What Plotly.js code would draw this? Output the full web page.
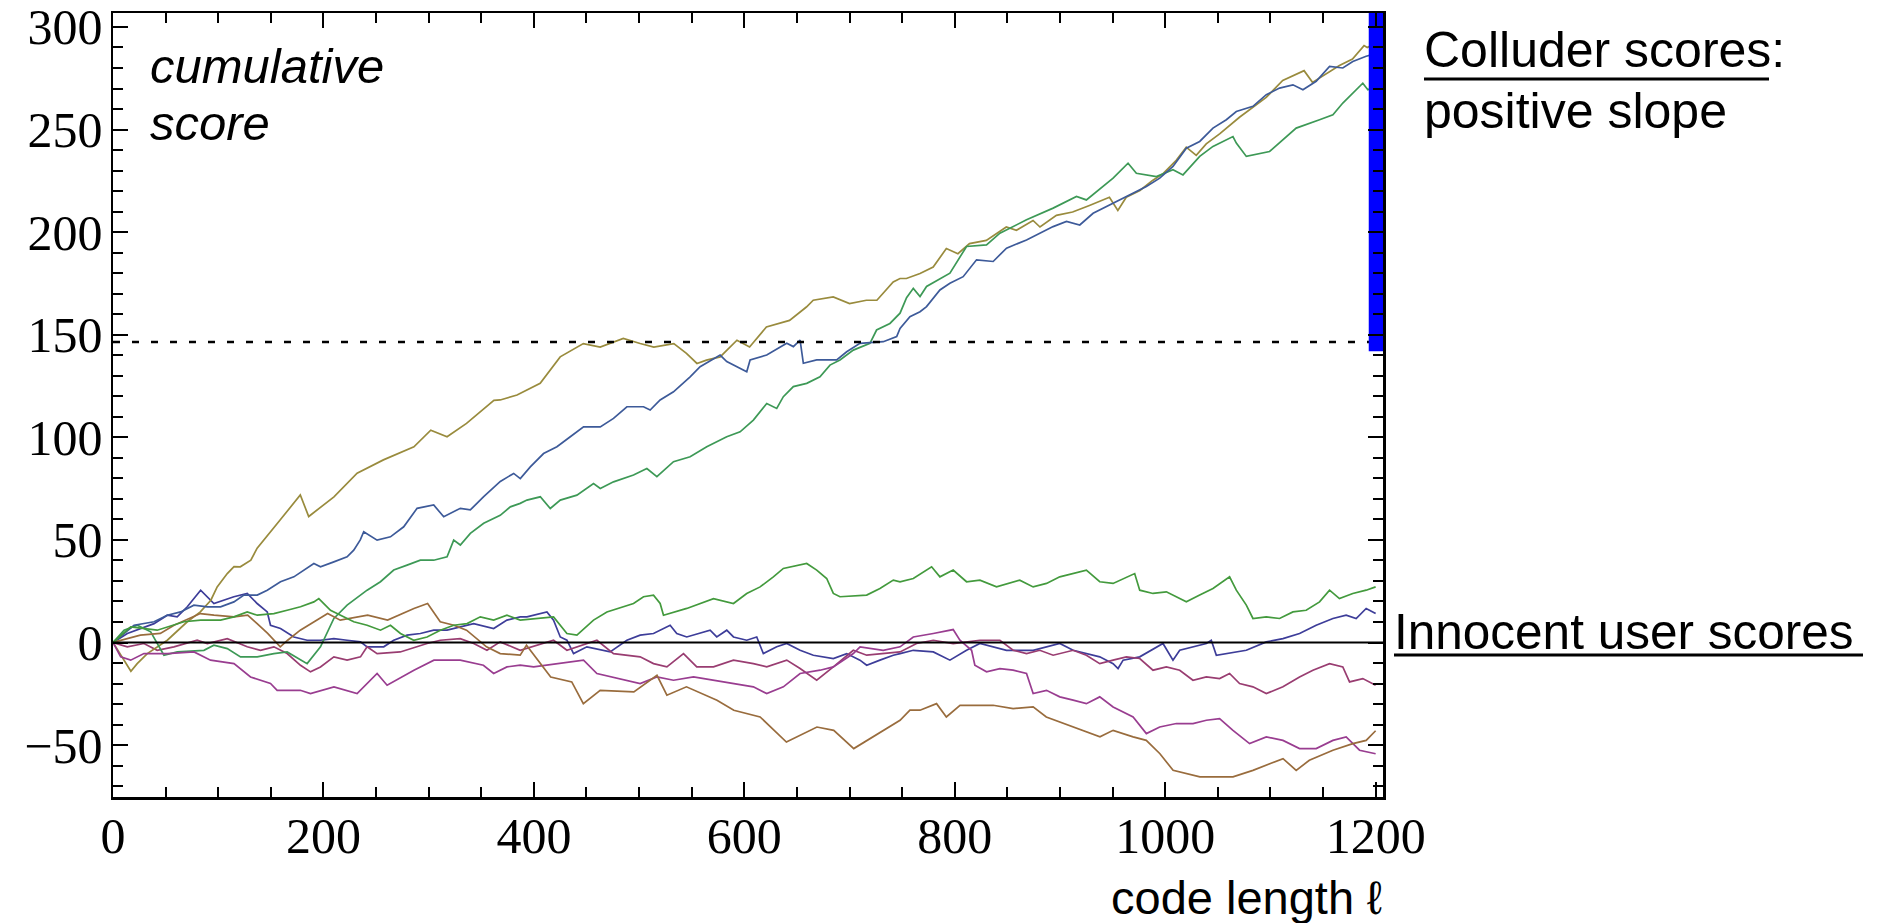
<!DOCTYPE html>
<html>
<head>
<meta charset="utf-8">
<script src="https://cdn.plot.ly/plotly-3.0.1.min.js"></script>
<style>
  html, body { margin: 0; padding: 0; background: #ffffff; }
  #chart { width: 1877px; height: 923px; }
</style>
</head>
<body>
<div id="chart"></div>
<script>
// ---------------- DATA ----------------
// Colluder 1 (olive)
const oliveX = [0,7.3,17,23,32.6,51.6,70.6,83,93,99,108.6,115,121,131,137,159,178,186,210,232,257,286,302,317.5,336,362,368,384,406,425,447,463,485,501,514,533,545,555,564,577,593,605,621,643,659,665.5,684.5,700,716,726,741.5,748,754,767,779.5,792,803,814,830,849,858.6,874.4,881,896.6,912,928,947,955,963,976,988,998,1010.5,1020,1029.5,1039,1052,1070.6,1083,1096,1111.7,1132,1140,1153,1165.6,1178,1189,1192,1200];
const oliveY = [0,-6.2,-14,-10.3,-5.4,1.1,10.1,14.9,20.6,27.1,33.6,37,36.9,40.1,46,59.8,71.9,61.4,71,82.5,89,95.4,103.5,100.3,106.8,118,118.2,120.6,126.3,139.2,145.7,144,148.2,145.7,144,145.7,140.9,136,137.6,139.2,147.3,144,153.8,157,163.5,166.8,168.4,165.2,166.8,166.8,175.7,177.4,177.4,179.8,183,192,189.5,194.4,196,202.5,200.9,205.7,202.5,208.2,209.8,213,217,210.6,217,220.3,225.2,228.5,235,241.4,237.4,243,248,256,260.9,265.7,273.9,278.7,273,277.1,281.2,284.4,290.9,290,292];

// Colluder 2 (blue)
const colBlueX = [0,20,39,51.6,64.3,76.9,89.6,102.2,114.9,124.4,137.1,146.6,159.2,171.9,190.9,197.2,209.9,222.5,228.8,235,238.3,251,263.7,276.3,289,304.8,314.3,330.1,339.6,352.3,368.1,380.8,387.1,396.6,409.2,421.9,434.6,447.2,463.1,475.7,488.4,504.2,510.5,520,532.7,548.5,558,577,583.3,602.3,605.5,621.3,640.3,646.6,653,656.1,668.8,687.8,697.3,709.9,732.1,744.8,748,757.4,767,773.2,785.9,795.4,808,820.7,836.5,849.2,868.2,880.8,893.5,906.2,918.8,931.5,944.1,956.8,969.5,982.1,994.8,1007.4,1020.1,1032.8,1045.4,1058.1,1067.6,1083.4,1096.1,1108.7,1121.4,1130.9,1143.5,1156.2,1168.8,1178.3,1191,1200];
const colBlueY = [0,8.4,10.1,13.3,14.9,18.2,17.4,17.4,19.8,23.1,23.1,25.5,29.6,32,38.5,36.9,39.3,41.8,45,50,54,49.9,51.5,56.4,65.4,67,61.3,65.4,64.6,71.1,78.5,82.4,79.9,85.6,92.1,95.4,100.3,105.1,105.1,109.2,114.9,114.9,113.3,118.2,122.2,129.5,134.4,140.1,136.9,132,137.7,140.1,145.8,144.2,147.4,136.1,137.7,137.7,141.7,145.8,146.6,149.1,153.1,158.8,161.2,163.7,171.8,175.1,178.3,186.5,185.7,192.2,196.2,199.5,202.7,205.2,203.5,209.2,212.5,215.7,219,222.2,226.3,232,240.9,244.2,250.7,254.8,258.8,261.3,267,270.2,271.8,269.4,273.5,280.8,280,283.2,285.7,287];

// Colluder 3 (green)
const colGreenX = [0,10.5,23.1,35.8,48.4,61.1,86.4,95.9,108.6,121.2,137.1,152.9,165.5,178.2,184.5,197.2,209.9,222.5,241.5,254.2,266.8,279.5,292.1,304.8,317.5,323.8,330.1,339.6,352.3,368,377.6,387,393.4,406.1,415.6,425.1,440.9,456.7,463.1,475.7,494.7,507.4,516.9,532.7,548.5,564.3,583.3,596,608.6,621.3,630.8,637.1,646.6,659.3,671.9,681.4,690.9,703.6,719.4,725.7,738.4,748,754.2,760.6,767,773.2,795.4,811.2,830.2,842.9,868.2,893.5,915.7,925.1,950.5,964.7,972.6,991.6,1007.4,1016.9,1032.8,1045.4,1064.4,1067.6,1077.1,1099.2,1111.9,1124.5,1146.7,1159.4,1168.8,1187.8,1192.6,1200];
const colGreenY = [0,6,8.4,5.2,-6.2,-4.6,-3.8,-1.3,-3,-7,-7,-5.4,-4.6,-8.6,-10.3,-2.1,11.7,18.2,25.5,29.6,35.3,37.7,40.1,40.1,41.8,49.9,47.5,53.2,58.1,62,66.1,67.8,69.4,71,65.3,69.4,71.8,77.5,75.1,78.3,81.6,84.8,80.8,88.1,90.5,95.4,100.3,102.7,108.4,116.5,114.1,119.8,124.7,126.3,129.5,135.2,137.7,142.5,145.8,152.3,155.5,160.5,168,172.6,168.6,173.5,180,193,193.8,199.5,206,211.7,217.4,215.7,226.3,233.6,228.7,227.1,230.4,227.9,236.9,241.8,246.6,243.4,236.9,239.3,245,250.7,254.8,257.2,262.9,272.6,269.4,271];

// Innocent user (green)
const innGreenX = [0,16.8,42,67.4,83.3,102.2,114.9,127.6,137.1,152.9,165.5,178.2,190.9,195.6,206.7,228.8,241.5,254.2,263.7,273.2,285.8,298.5,311.1,323.8,336.5,349.1,361.8,374.4,387,406.1,418.7,431.4,440.9,456.7,469.4,494.7,504.2,513.7,520,523.2,545.3,570.7,589.7,602.3,615,627.6,637.1,659.3,668.8,678.3,684.6,690.9,716.3,728.9,741.6,748,760.6,778,785.9,798.5,811.2,823.9,839.7,861.8,874.5,887.2,899.8,925.1,937.8,950.5,971,975.8,988.4,1001.1,1020.1,1032.8,1045.4,1061.2,1067.6,1077.1,1083.4,1096.1,1108.7,1121.4,1134,1146.7,1156.2,1165.6,1178.3,1191,1200];
const innGreenY = [0,7.6,6,10.1,10.9,10.9,12.5,14.9,13.3,14.1,15.7,17.4,19.8,21.4,15.7,10.1,8.4,6,8.4,4.4,1.1,2.7,6,8.4,9.2,12.5,10.9,13.3,10.9,11.7,12.5,4.4,3.6,10.9,14.9,19,22.3,23.1,19,13.3,16.6,21.4,19,23.9,27.1,32,36.1,38.5,35.3,31.2,23.9,22.3,23.1,26.3,30.4,29.6,31.2,36.9,32,35.3,29.6,30.4,27.1,30.4,27.1,28.8,32,35.3,29.6,28.8,33.6,25.5,23.9,24.7,19.8,23.1,26.3,32,25.5,18.2,11.7,12.5,11.7,14.9,15.7,19.8,25.5,21.4,23.9,25.5,27.1];

// Innocent user (blue)
const innBlueX = [0,13.6,39,51.6,61,70.6,83.3,95.9,114.9,127.6,137,146.6,149.7,159.2,171.9,184.5,197.2,209.9,222.5,235.2,241.5,257.3,266.8,279.5,292.1,304.8,317.5,330.1,342.8,361.8,374.4,387,393.4,412.4,418.7,425.1,431.4,437.7,450.4,472.5,488.4,501,513.7,529.5,535.8,545.3,567.5,573.8,583.3,589.7,602.3,611.8,618.1,630.8,640.3,653,665.6,684.6,697.3,709.9,716.3,728.9,741.6,748,760.6,779.6,795.4,811.2,823.9,849.2,874.5,899.8,912.5,937.8,950.5,955.2,960,975.8,997.9,1007.4,1013.8,1039.1,1043.8,1048.6,1077.1,1096.1,1111.9,1127.7,1143.5,1159.4,1172,1181.5,1191,1200];
const innBlueY = [0,4.4,9.2,13.3,12.5,17.4,25.5,19,22.3,23.9,19,14.9,8.4,6.8,2.7,1.1,1.1,1.9,1.1,0.3,-2.1,-2.1,1.1,3.6,4.4,6,6,7.6,9.2,6.8,10.9,12.5,12.5,14.9,10.9,2.7,1.1,-5.4,-2.1,-4.6,1.1,3.6,4.4,8.4,4.4,2.7,6,2.7,6,2.7,1.1,2.7,-5.4,-2.1,-0.5,-3.8,-6.2,-7.8,-5.4,-8.6,-11.1,-8.6,-6.2,-5.4,-3.8,-4.6,-8.6,-3.8,-0.5,-3.8,-3.8,-0.5,-3.8,-7,-10.3,-12.7,-8.6,-7,-0.5,-8.6,-3.8,-0.5,1.1,-6.2,-3.8,0.3,1.9,4.4,8.4,11.7,13.3,11.7,16.6,14.1];

// Innocent user (magenta)
const innMagentaX = [0,13.6,29.4,42,57.9,80,89.6,108.6,127.6,140.2,152.9,165.5,178.2,187.7,197.2,209.9,222.5,235.2,241.5,251,273,298.5,311,330,342.8,355.4,368,387,418.7,431.4,459.9,475.7,501,513.7,526.4,542.2,554.8,570.7,589.7,608.6,621.3,640.3,653,668.8,684.6,703.6,716.3,748,763.7,779.6,798.5,823.9,842.9,855.5,868.2,880.8,893.5,912.5,925.1,937.8,950.5,963.1,975.8,988.4,1001.1,1013.8,1026.4,1039.1,1051.7,1061.2,1070.7,1083.4,1096.1,1111.9,1127.7,1140.4,1156.2,1168.8,1175.2,1187.8,1200];
const innMagentaY = [0,-2.1,-0.5,-3.8,-2.1,1.1,-0.5,1.9,-2.1,-3.8,-2.1,-5.4,-11.1,-14.3,-11.9,-7,-8.6,-7,-2.1,-5.4,-4.6,-0.5,1.1,1.9,-0.5,-3.8,0.3,-3.8,1.1,-3.8,1.1,-5.4,-7,-10.3,-11.9,-5.4,-11.9,-11.9,-8.6,-10.3,-11.9,-8.6,-12.7,-18.4,-11.9,-3.8,-6.2,-4.6,-0.5,1.1,-0.5,1.1,1.1,-3.8,-5.4,-3.8,-6.2,-3.8,-6.2,-10.3,-8.6,-7,-7.8,-13.5,-11.9,-13.5,-18.4,-16.8,-17.6,-15.1,-20,-21.6,-24.9,-21.6,-16.8,-13.5,-10.3,-11.9,-19.2,-17.6,-20.8];

// Innocent user (purple)
const innPurpleX = [0,7.3,16.8,29.4,51.6,77,92.7,115,130.7,149.7,156,178,187.7,210,232,251,260.5,286,305,330,352,361.8,374.4,387,399.8,447.2,459.9,501,516.9,532.7,551.7,570.7,589.7,608.6,621.3,637.1,653,672,684.6,703.6,710,732,748,760.6,779.6,798.5,804.9,816,819.1,830.2,842.9,855.5,868.2,874.5,887.2,899.8,912.5,925.1,937.8,950.5,969.5,982.1,994.8,1010.6,1026.4,1039.1,1051.7,1064.4,1080.2,1096.1,1111.9,1127.7,1143.5,1159.4,1172,1184.7,1200];
const innPurpleY = [0,-7,-8.6,-5.4,-5.4,-4.6,-8.6,-10.3,-16.8,-20,-23.3,-23.3,-24.9,-21.6,-24.9,-15.1,-20.8,-13.5,-8.6,-8.6,-11.1,-15.1,-11.9,-11,-11.9,-8.6,-15.1,-20,-16.8,-18.4,-16.8,-18.4,-20,-21.6,-24.9,-21.6,-15.1,-13.5,-11.9,-5.4,-2.1,-3.8,-2.1,2.7,4.4,6.3,1.1,-3.8,-11.1,-14.3,-12.7,-13.5,-15.1,-24.9,-23.3,-26.5,-28.1,-29.8,-26.5,-31.4,-36.3,-44.4,-41.2,-39.5,-39.5,-37.9,-37.1,-42.8,-49.3,-46,-47.7,-51.7,-51.7,-47.7,-46,-52.5,-54.2];

// Innocent user (brown)
const innBrownX = [0,26,45,58,83,96,115,128,137,147,159,166,178,204,216,242,261,286,299,311,324,336,355,368,387,393,416,436,447,463,495,517,526.4,545,574,590,615,628,640,669,685,704,732,748,757.4,767,782.7,792,805,836.5,855.5,874.5,887,912.5,938,950.5,969.5,982,995,1007.5,1033,1064.4,1083.4,1112,1124.5,1137,1159.4,1178.3,1191,1200];
const innBrownY = [0,3.6,4.4,8.4,14.1,13.3,12.5,13.3,9.2,4.4,-2.1,1.1,6,14.1,10.9,13.3,10.9,16.6,19,10.1,8.4,6,-2.1,-5.4,-6.2,-1.3,-16.8,-19.2,-29.8,-23.3,-24.1,-16,-25.7,-21.6,-28.1,-33,-36.3,-42.8,-48.5,-41.2,-42.8,-51.7,-42.8,-37.9,-33,-33,-29.8,-36.3,-30.6,-30.6,-32.2,-31.4,-36.3,-41.2,-46,-42.8,-46,-47.7,-54.2,-62.3,-65.5,-65.5,-62.3,-56.6,-62.3,-57.4,-52.5,-49.3,-47.7,-43];

// Reference levels
const thresholdScore = 146.5;      // dashed accusation threshold
const barCodeLength = 1202;        // position of the blue bar
const barScoreRange = [142, 320];  // vertical extent of the blue bar
const xAxisRange = [0, 1207];
const yAxisRange = [-75.3, 306.8];

// Tick labels
const xTickVals = [0, 200, 400, 600, 800, 1000, 1200];
const xTickText = ["0", "200", "400", "600", "800", "1000", "1200"];
const yTickVals = [-50, 0, 50, 100, 150, 200, 250, 300];
const yTickText = ["\u221250", "0", "50", "100", "150", "200", "250", "300"];

// Texts
const yLabelLines = ["cumulative", "score"];
const xLabelText = "code length \u2113";
const colluderLines = ["Colluder scores:", "positive slope"];
const innocentText = "Innocent user scores";

// ---------------- STYLES / LAYOUT ----------------
const W = 1877, H = 923;
const PL = 113, PR = 1383, PT = 13, PB = 797;   // plot box in px
const px2x = p => (p - PL) / (PR - PL);
const px2y = p => (PB - p) / (PB - PT);

const seriesDefs = [
  { x: innBlueX,    y: innBlueY,    color: '#3D3D99' },
  { x: innMagentaX, y: innMagentaY, color: '#993D71' },
  { x: oliveX,      y: oliveY,      color: '#998B3D' },
  { x: colGreenX,   y: colGreenY,   color: '#3D9956' },
  { x: colBlueX,    y: colBlueY,    color: '#3D5A99' },
  { x: innPurpleX,  y: innPurpleY,  color: '#993D90' },
  { x: innBrownX,   y: innBrownY,   color: '#996C3D' },
  { x: innGreenX,   y: innGreenY,   color: '#439A3D' }
];

const traces = seriesDefs.map(s => ({
  type: 'scatter', mode: 'lines', x: s.x, y: s.y,
  line: { color: s.color, width: 1.7 }, hoverinfo: 'skip'
}));

// zero line
traces.push({ type: 'scatter', mode: 'lines', x: xAxisRange, y: [0, 0],
  line: { color: '#000000', width: 2.2 }, hoverinfo: 'skip' });
// dashed threshold
traces.push({ type: 'scatter', mode: 'lines', x: xAxisRange, y: [thresholdScore, thresholdScore],
  line: { color: '#000000', width: 2.5, dash: '7px,12px' }, hoverinfo: 'skip' });
// blue bar
traces.push({ type: 'scatter', mode: 'lines', x: [barCodeLength, barCodeLength], y: barScoreRange,
  line: { color: '#0000FF', width: 18 }, hoverinfo: 'skip' });

const tickFont = { family: 'Liberation Serif, Times New Roman, serif', size: 50, color: '#000000' };
const sansFont = (size, style) => ({ family: 'Liberation Sans, Arial, sans-serif', size: size, color: '#000000', style: style || 'normal' });

const commonAxis = {
  showgrid: false, zeroline: false, showline: true, linecolor: '#000000', linewidth: 2.5,
  mirror: 'ticks', ticks: 'inside', ticklen: 15, tickwidth: 2, tickcolor: '#000000',
  tickfont: tickFont, fixedrange: true, ticklabeloverflow: 'allow'
};

const layout = {
  width: W, height: H,
  margin: { l: PL, r: W - PR, t: PT, b: H - PB, pad: 0 },
  paper_bgcolor: '#ffffff', plot_bgcolor: '#ffffff',
  showlegend: false,
  xaxis: Object.assign({}, commonAxis, {
    range: xAxisRange, tickmode: 'array', tickvals: xTickVals, ticktext: xTickText,
    ticklabelstandoff: -7,
    minor: { dtick: 50, tick0: 0, ticks: 'inside', ticklen: 10, tickwidth: 2, tickcolor: '#000000' }
  }),
  yaxis: Object.assign({}, commonAxis, {
    range: yAxisRange, tickmode: 'array', tickvals: yTickVals, ticktext: yTickText,
    ticklabelstandoff: -2,
    minor: { dtick: 10, tick0: 0, ticks: 'inside', ticklen: 10, tickwidth: 2, tickcolor: '#000000' }
  }),
  annotations: [
    { text: yLabelLines[0], xref: 'paper', yref: 'paper', x: px2x(148), y: px2y(66), xanchor: 'left', yanchor: 'middle', showarrow: false, font: sansFont(49, 'italic') },
    { text: yLabelLines[1], xref: 'paper', yref: 'paper', x: px2x(148), y: px2y(123), xanchor: 'left', yanchor: 'middle', showarrow: false, font: sansFont(49, 'italic') },
    { text: colluderLines[0], xref: 'paper', yref: 'paper', x: px2x(1422), y: px2y(50), xanchor: 'left', yanchor: 'middle', showarrow: false, font: sansFont(50) },
    { text: colluderLines[1], xref: 'paper', yref: 'paper', x: px2x(1422), y: px2y(111), xanchor: 'left', yanchor: 'middle', showarrow: false, font: sansFont(50) },
    { text: innocentText, xref: 'paper', yref: 'paper', x: px2x(1392), y: px2y(631), xanchor: 'left', yanchor: 'middle', showarrow: false, font: sansFont(49.5) },
    { text: xLabelText, xref: 'paper', yref: 'paper', x: px2x(1109), y: px2y(897), xanchor: 'left', yanchor: 'middle', showarrow: false, font: sansFont(47) }
  ],
  shapes: [
    { type: 'line', xref: 'paper', yref: 'paper', x0: px2x(1424), x1: px2x(1769), y0: px2y(79), y1: px2y(79), line: { color: '#000000', width: 3 } },
    { type: 'line', xref: 'paper', yref: 'paper', x0: px2x(1394), x1: px2x(1863), y0: px2y(655), y1: px2y(655), line: { color: '#000000', width: 3 } }
  ]
};

Plotly.newPlot('chart', traces, layout, { displayModeBar: false, staticPlot: true });
</script>
</body>
</html>
